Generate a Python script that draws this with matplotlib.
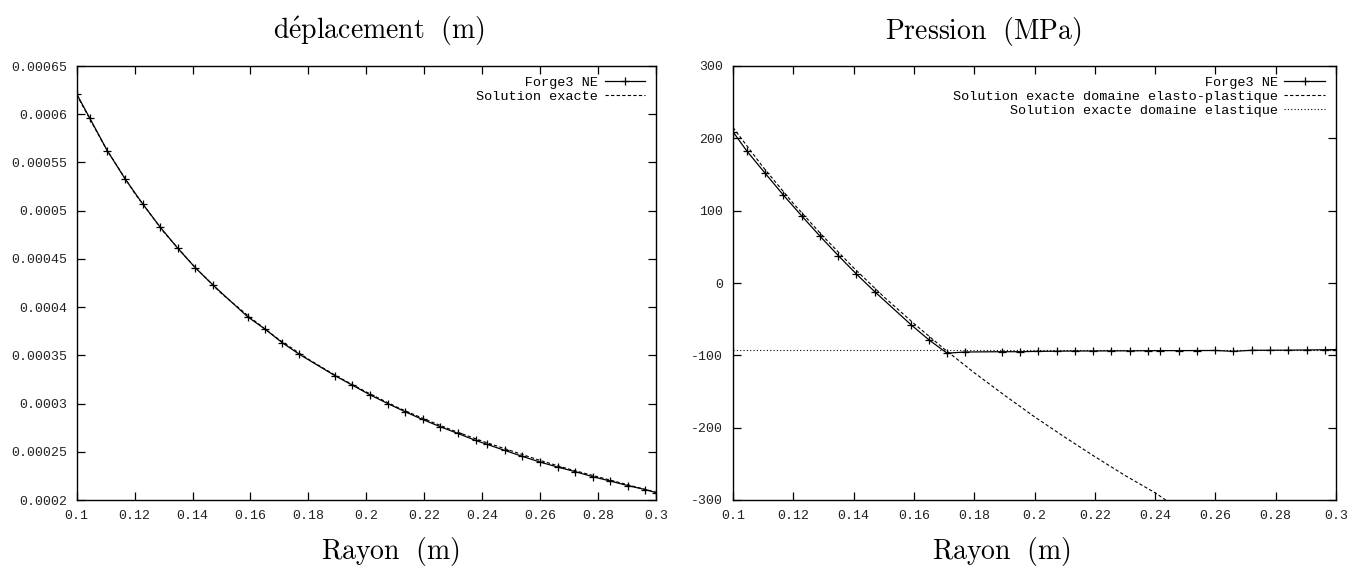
#Deplacement et pression : Forge3 NE contre solution exacte

import numpy as np
import matplotlib
matplotlib.use("Agg")
import matplotlib.pyplot as plt
from matplotlib.ticker import FormatStrFormatter, MultipleLocator

# positions des noeuds (rayon, m) communes aux deux courbes Forge3
r_forge = [0.1, 0.1045, 0.1106, 0.1167, 0.1228, 0.1288, 0.1349, 0.1409, 0.1470,
           0.1590, 0.1651, 0.1710, 0.1769, 0.1891, 0.1952, 0.2013, 0.2074, 0.2134,
           0.2194, 0.2255, 0.2316, 0.2377, 0.2417, 0.2478, 0.2539, 0.2600, 0.2660,
           0.2721, 0.2781, 0.2842, 0.2903, 0.2963, 0.3]

# deplacement Forge3 (m)
u_forge = [0.000621, 0.000596, 0.000562, 0.000533, 0.000507, 0.000483, 0.000461,
           0.000441, 0.000423, 0.000390, 0.000377, 0.000363, 0.000351, 0.000329,
           0.000319, 0.000309, 0.000300, 0.0002915, 0.0002835, 0.000276, 0.000269,
           0.0002618, 0.0002577, 0.0002514, 0.0002452, 0.0002393, 0.0002342,
           0.0002294, 0.0002242, 0.0002197, 0.0002149, 0.0002108, 0.0002077]

# deplacement exact (m)
r_exact = [0.10, 0.11, 0.12, 0.13, 0.14, 0.15, 0.16, 0.17, 0.18, 0.19, 0.20,
           0.21, 0.22, 0.23, 0.24, 0.25, 0.26, 0.27, 0.28, 0.29, 0.30]
u_exact = [0.000620, 0.000565, 0.000518, 0.000478, 0.000444, 0.000414, 0.000389,
           0.000366, 0.000346, 0.000328, 0.000312, 0.000297, 0.000284, 0.000272,
           0.000261, 0.000251, 0.000241, 0.000232, 0.000224, 0.000216, 0.000208]

# pression Forge3 (MPa)
p_forge = [209, 183, 152, 121.6, 92.7, 65, 38, 12.5, -12, -57.5, -79, -97, -95.4,
           -95, -95, -94.5, -94.3, -94, -94, -93.8, -93.8, -93.6, -93.5, -93.5,
           -93.4, -93.3, -94.5, -93, -93, -92.8, -92.6, -92.3, -92]

# solution exacte domaine elasto-plastique
r_plast = [0.10, 0.11, 0.12, 0.13, 0.14, 0.15, 0.16, 0.17, 0.18, 0.19, 0.20,
           0.21, 0.22, 0.23, 0.24, 0.2435]
p_plast = [215, 160, 110, 64, 21, -19, -56, -91, -124, -155, -185, -213, -240,
           -266, -290, -300]

# solution exacte domaine elastique
r_elast = [0.1, 0.3]
p_elast = [-93, -93]

plt.rcParams['mathtext.fontset'] = 'cm'
plt.rcParams['axes.unicode_minus'] = False
mono = 'Liberation Mono'

fig = plt.figure(figsize=(13.56, 5.72), dpi=100)
W, H = 1356.0, 572.0
ax1 = fig.add_axes([76.7 / W, 1 - 500 / H, (656 - 76.7) / W, (500 - 66) / H])
ax2 = fig.add_axes([733 / W, 1 - 500 / H, (1336 - 733) / W, (500 - 66) / H])


def legend_labels(labels):
    n = max(len(s) for s in labels)
    return [s.rjust(n) for s in labels]


# --- deplacement
lab1 = legend_labels(["Forge3 NE", "Solution exacte"])
ax1.plot(r_forge, u_forge, color='black', lw=0.9, marker='+', ms=6, mew=0.9,
         label=lab1[0])
ax1.plot(r_exact, u_exact, color='black', lw=0.8, ls=(0, (3, 2)), label=lab1[1])
ax1.set_xlim(0.1, 0.3)
ax1.set_ylim(0.0002, 0.00065)
ax1.yaxis.set_major_locator(MultipleLocator(0.00005))
ax1.yaxis.set_major_formatter(FormatStrFormatter('%g'))

# --- pression
lab2 = legend_labels(["Forge3 NE", "Solution exacte domaine elasto-plastique",
                      "Solution exacte domaine elastique"])
ax2.plot(r_forge, p_forge, color='black', lw=0.9, marker='+', ms=6, mew=0.9,
         label=lab2[0])
ax2.plot(r_plast, p_plast, color='black', lw=0.8, ls=(0, (3, 2)), label=lab2[1])
ax2.plot(r_elast, p_elast, color='black', lw=0.8, ls=(0, (1, 2)), label=lab2[2])
ax2.set_xlim(0.1, 0.3)
ax2.set_ylim(-300, 300)
ax2.yaxis.set_major_locator(MultipleLocator(100))
ax2.yaxis.set_major_formatter(FormatStrFormatter('%g'))

for ax in (ax1, ax2):
    ax.xaxis.set_major_locator(MultipleLocator(0.02))
    ax.xaxis.set_major_formatter(FormatStrFormatter('%g'))
    ax.tick_params(direction='in', length=6, width=0.9, top=True, right=True,
                   labelsize=9.5, pad=7, colors='black')
    for lbl in ax.get_xticklabels() + ax.get_yticklabels():
        lbl.set_family(mono)
        lbl.set_color('#222222')
    for sp in ax.spines.values():
        sp.set_linewidth(1.0)
    ax.legend(loc='upper right', bbox_to_anchor=(0.995, 0.995), frameon=False,
              markerfirst=False, handlelength=3.0, handletextpad=0.5,
              labelspacing=0.12, borderaxespad=0.2,
              prop={'family': mono, 'size': 9.7})

fig.text(379 / W, 1 - 31 / H, r'$\mathrm{d\acute{e}placement\ \ (m)}$',
         ha='center', va='center', fontsize=20)
fig.text(983 / W, 1 - 31 / H, r'$\mathrm{Pression\ \ (MPa)}$',
         ha='center', va='center', fontsize=20)
fig.text(390 / W, 1 - 551 / H, r'$\mathrm{Rayon\ \ (m)}$',
         ha='center', va='center', fontsize=20)
fig.text(1001 / W, 1 - 551 / H, r'$\mathrm{Rayon\ \ (m)}$',
         ha='center', va='center', fontsize=20)

fig.savefig('out.png', dpi=100)
